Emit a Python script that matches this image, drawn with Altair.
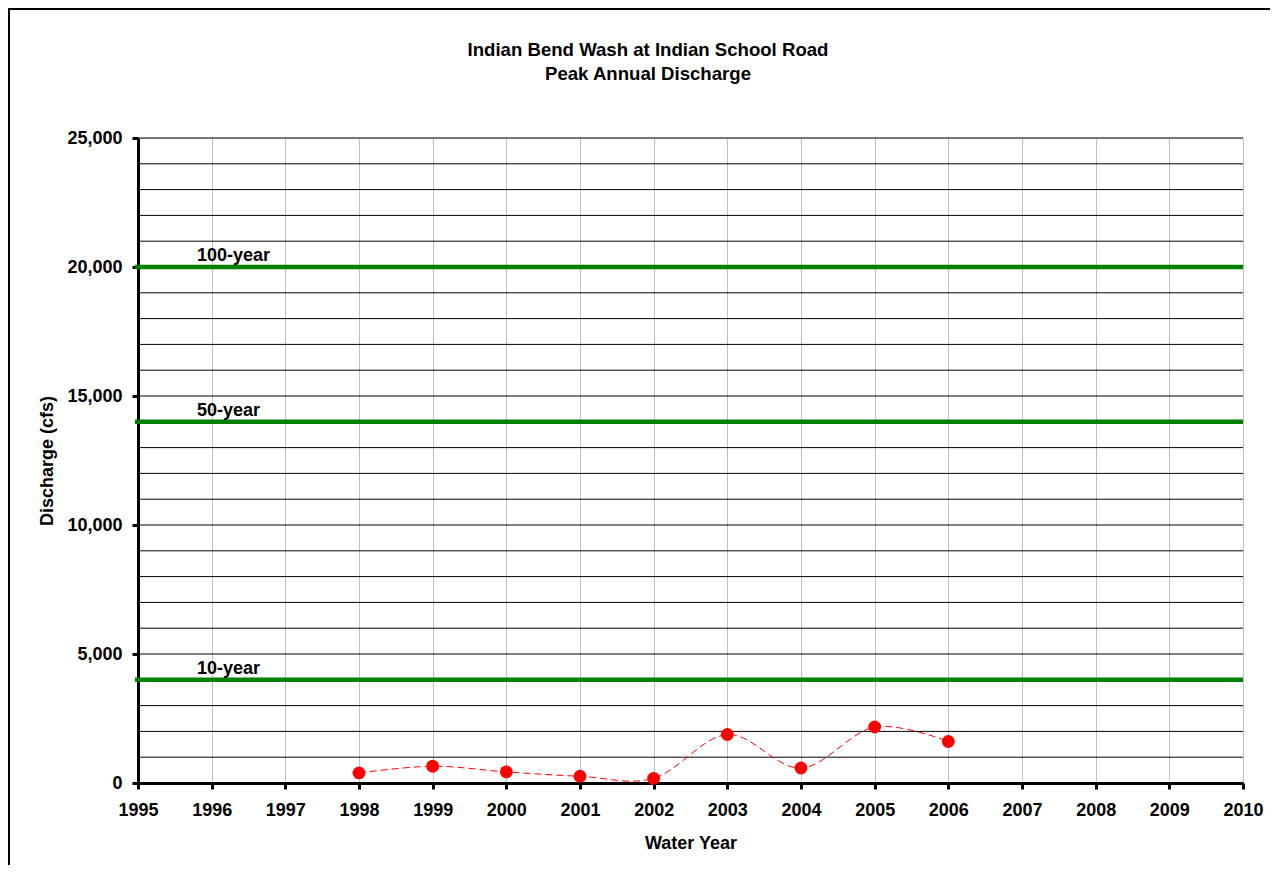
import altair as alt
import pandas as pd

# ---- data ----
YEARS = [1998, 1999, 2000, 2001, 2002, 2003, 2004, 2005, 2006]
PEAKS = [390, 650, 430, 260, 180, 1880, 580, 2170, 1610]

RP_LABELS = ["100-year", "50-year", "10-year"]
RP_VALUES = [20000, 14000, 4000]

X_TICKS = list(range(1995, 2011))
Y_LABEL_TICKS = [0, 5000, 10000, 15000, 20000, 25000]
Y_GRID = list(range(0, 25001, 1000))

TITLE_LINES = ["Indian Bend Wash at Indian School Road", "Peak Annual Discharge"]

FONT = "Liberation Sans"
W, H = 1105, 645

peaks_df = pd.DataFrame({"year": YEARS, "peak": PEAKS})
rp_df = pd.DataFrame({"label": RP_LABELS, "peak": RP_VALUES})
grid_df = pd.DataFrame({"peak": Y_GRID})

x_scale = alt.Scale(domain=[1995, 2010], nice=False, zero=False)
y_scale = alt.Scale(domain=[0, 25000], nice=False, zero=True)

x_axis = alt.Axis(
    values=X_TICKS, format="d", labelFlush=False, labelOverlap=False,
    grid=True, gridColor="#c0c0c0", gridWidth=1,
    domainColor="black", domainWidth=3,
    tickColor="black", tickWidth=3, tickSize=6,
    labelPadding=12, labelFont=FONT, labelFontSize=18, labelFontWeight="bold",
    labelColor="black",
    title="Water Year", titleFont=FONT, titleFontSize=18, titleFontWeight="bold",
    titleColor="black", titleY=60, titleBaseline="middle",
)
y_axis = alt.Axis(
    values=Y_LABEL_TICKS, format=",d", labelFlush=False, labelOverlap=False,
    grid=False,
    domainColor="black", domainWidth=3,
    tickColor="black", tickWidth=3, tickSize=6,
    labelPadding=10, labelFont=FONT, labelFontSize=18, labelFontWeight="bold",
    labelColor="black",
    title="Discharge (cfs)", titleFont=FONT, titleFontSize=18, titleFontWeight="bold",
    titleColor="black", titleX=-90.5, titleY=322.5, titleAngle=270,
    titleAlign="center", titleBaseline="middle",
)


def xenc():
    return alt.X("year:Q", scale=x_scale, axis=x_axis)


def yenc():
    return alt.Y("peak:Q", scale=y_scale, axis=y_axis)


frame = alt.Chart(alt.Data(values=[{}])).mark_rect(
    fillOpacity=0, stroke="black", strokeWidth=2
).encode(
    x=alt.value(-129), y=alt.value(-129), x2=alt.value(1400), y2=alt.value(1000)
)

title_style = dict(align="center", baseline="middle", font=FONT, fontSize=18.6,
                   fontWeight="bold", color="black")
title1 = alt.Chart(alt.Data(values=[{"t": TITLE_LINES[0]}])).mark_text(**title_style).encode(
    x=alt.value(510), y=alt.value(-88), text="t:N"
)
title2 = alt.Chart(alt.Data(values=[{"t": TITLE_LINES[1]}])).mark_text(**title_style).encode(
    x=alt.value(510), y=alt.value(-64), text="t:N"
)

grid = alt.Chart(grid_df).mark_rule(color="#000000", strokeWidth=1).encode(y=yenc())

rp_lines = alt.Chart(rp_df).mark_rule(color="#008000", strokeWidth=4.5).encode(
    y=yenc(), x=alt.value(-3), x2=alt.value(W)
)

rp_text = alt.Chart(rp_df).mark_text(
    align="left", baseline="alphabetic", dy=-6, font=FONT, fontSize=18,
    fontWeight="bold", color="black"
).encode(y=yenc(), x=alt.value(59), text="label:N")

line = alt.Chart(peaks_df).mark_line(
    color="#ff0000", strokeWidth=1, strokeDash=[7, 4], interpolate="cardinal"
).encode(x=xenc(), y=yenc())

points = alt.Chart(peaks_df).mark_point(
    filled=True, shape="circle", size=165, color="#ff0000", opacity=1
).encode(x=xenc(), y=yenc())

chart = alt.layer(frame, title1, title2, grid, rp_lines, rp_text, line, points).properties(
    width=W, height=H,
    autosize=alt.AutoSizeParams(type="none"),
    padding={"left": 130, "top": 130, "right": 27, "bottom": 82},
).configure_view(stroke="#808080", strokeWidth=2).configure(background="white")

chart.save("out.html", embed_options={"renderer": "svg", "actions": False})
